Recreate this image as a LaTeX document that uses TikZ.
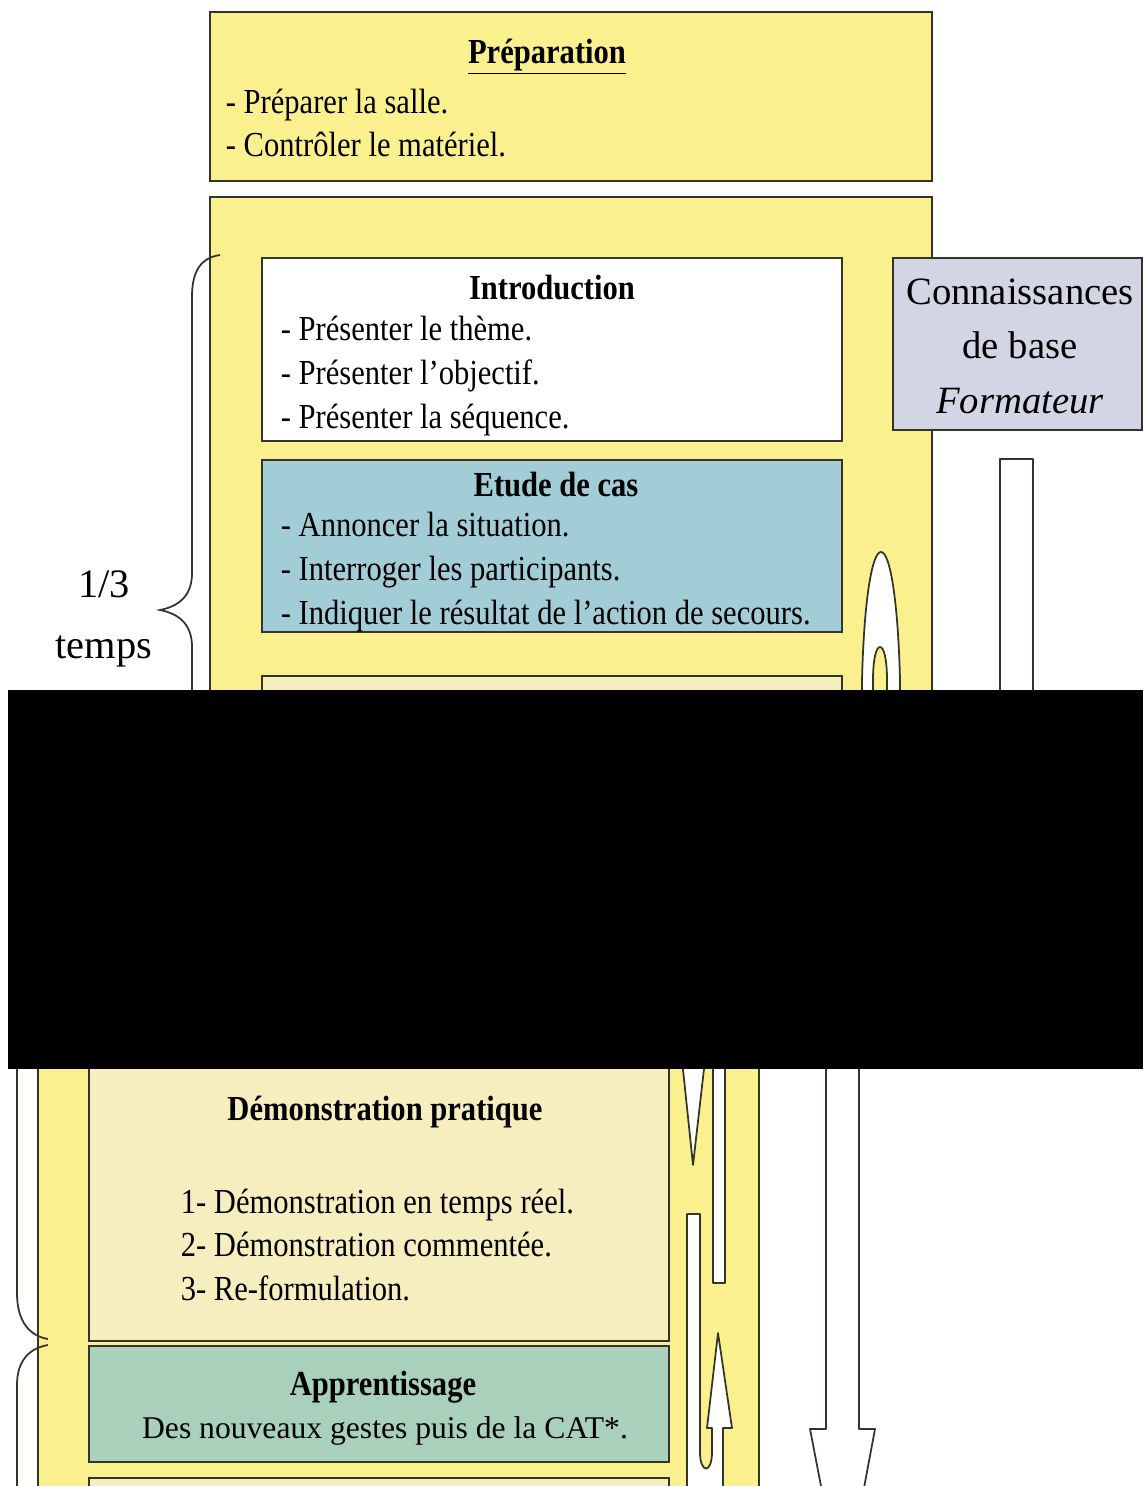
\documentclass[tikz,border=0pt]{standalone}
\usepackage{fontspec}
\setmainfont{Liberation Serif}
\newfontfamily\etroit[FakeStretch=0.87]{Liberation Serif}
\usetikzlibrary{positioning}
\usetikzlibrary{fit}

\definecolor{jaune}{RGB}{250,241,142}
\definecolor{creme}{RGB}{246,238,190}
\definecolor{bleu}{RGB}{162,205,214}
\definecolor{vert}{RGB}{168,208,186}
\definecolor{lavande}{RGB}{212,213,228}
\definecolor{trait}{RGB}{52,52,42}

\begin{document}
\begin{tikzpicture}[x=0.02cm,y=-0.02cm,line width=1pt,
  cadre/.style={draw=trait,inner sep=0pt},
  titre/.style={font=\etroit\fontsize{20}{24}\selectfont\bfseries},
  liste/.style={font=\etroit\fontsize{20}{25}\selectfont,align=left,inner sep=0pt,anchor=west},
  fleche/.style={draw=trait,fill=white,line join=round}]

\useasboundingbox (0,0) rectangle (1143,1486);
\fill[white] (0,0) rectangle (1143,1486);

% haut de la page
\node[cadre,fill=jaune,fit={(210,12)(932,181)}] (prep) {};
\node[titre] (prep_t) at (547,57) {\underline{Préparation}};
\node[liste] (prep_l) at (225,123) {- Préparer la salle.\\- Contrôler le matériel.};

\node[cadre,fill=jaune,fit={(210,197)(932,720)}] (seance) {};
\node[cadre,fill=white,fit={(262,258)(842,441)}] (intro) {};
\node[titre] (intro_t) at (552,288) {Introduction};
\node[liste] (intro_l) at (280,376) {- Présenter le thème.\\- Présenter l’objectif.\\- Présenter la séquence.};

\node[cadre,fill=bleu,fit={(262,460)(842,632)}] (cas) {};
\node[titre] (cas_t) at (556,485) {Etude de cas};
\node[liste] (cas_l) at (280,572) {- Annoncer la situation.\\- Interroger les participants.\\- Indiquer le résultat de l’action de secours.};

\node[cadre,fill=creme,fit={(262,676)(842,720)}] (demo_haut) {};

\node[cadre,fill=lavande,fit={(893,258)(1142,430)}] (savoirs) {};
\node[font=\fontsize{22}{31}\selectfont,align=center] (savoirs_t) at (1020,346) {Connaissances\\de base\\\textit{Formateur}};

\draw[fleche] (1000,720) -- (1000,459) -- (1033,459) -- (1033,720);
\draw[fleche] (862,700) -- (862,680) .. controls (864,600) and (872,552) .. (881,552) .. controls (890,552) and (898,600) .. (900,680) -- (900,700);
\draw[fleche,fill=jaune] (873,700) -- (873,680) .. controls (873,660) and (876,647) .. (880,647) .. controls (884,647) and (887,660) .. (887,680) -- (887,700);

\draw[trait] (220,255) .. controls (200,258) and (192,272) .. (192,297) -- (192,573) .. controls (192,595) and (180,606) .. (160,610) .. controls (180,614) and (192,625) .. (192,647) -- (192,700);
\node[font=\fontsize{23}{35}\selectfont,align=center] (tiers) at (104,619) {1/3\\temps};

% bas de la page
\node[cadre,fill=jaune,fit={(38,1040)(759,1520)}] (seance_bas) {};
\node[cadre,fill=creme,fit={(89,1040)(669,1341)}] (demo) {};
\node[titre] (demo_t) at (385,1112) {Démonstration pratique};
\node[liste] (demo_l) at (180,1245) {1- Démonstration en temps réel.\\2- Démonstration commentée.\\3- Re-formulation.};
\node[cadre,fill=vert,fit={(89,1346)(669,1462)}] (appr) {};
\node[titre] (appr_t) at (383,1387) {Apprentissage};
\node[font=\fontsize{18}{20}\selectfont] (appr_l) at (385,1431) {Des nouveaux gestes puis de la CAT*.};
\node[cadre,fill=creme,fit={(89,1478)(669,1520)}] (suite) {};

\draw[fleche] (682,1060) -- (693,1165) -- (705,1060);
\draw[fleche] (713,1060) -- (713,1283) -- (725,1283) -- (725,1060);
\draw[fleche] (687,1500) -- (687,1214) -- (700,1214) -- (700,1452) .. controls (700,1474) and (712,1474) .. (712,1452) -- (712,1428) -- (707,1428) -- (718,1333) -- (732,1428) -- (723,1428) -- (723,1500);
\draw[fleche] (826,1060) -- (826,1429) -- (810,1429) -- (843,1600) -- (875,1429) -- (859,1429) -- (859,1060);

\draw[trait] (17,1060) -- (17,1293) .. controls (17,1322) and (30,1336) .. (48,1339);
\draw[trait] (48,1345) .. controls (30,1348) and (17,1360) .. (17,1385) -- (17,1500);

\fill[black] (8,690) rectangle (1143,1069);
\end{tikzpicture}
\end{document}
